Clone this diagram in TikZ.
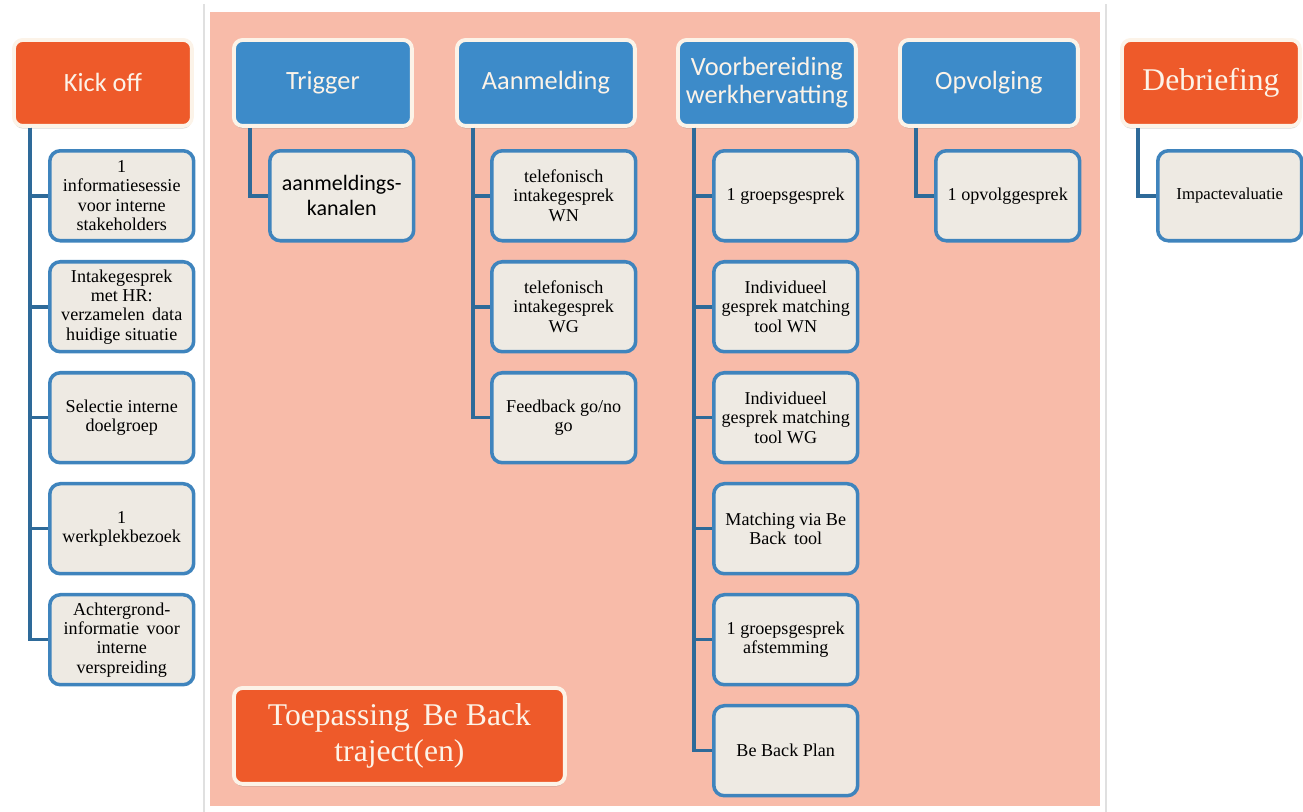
\documentclass[tikz,border=0pt]{standalone}
\usepackage{fontspec}
\setmainfont{Liberation Serif}
\newfontfamily\calibri{Carlito}
\usetikzlibrary{positioning,shadows}

\definecolor{kickorange}{HTML}{EE5A2A}
\definecolor{stepblue}{HTML}{3D8BC9}
\definecolor{cream}{HTML}{FCF3E8}
\definecolor{salmon}{HTML}{F8BBA9}
\definecolor{subfill}{HTML}{EEEAE3}
\definecolor{subline}{HTML}{3F84BD}
\definecolor{linkblue}{HTML}{2E6A99}

\begin{document}
\begin{tikzpicture}[x=0.02cm,y=-0.02cm,
					node distance=0.35cm,
					head/.style={rectangle,rounded corners=5pt,draw=cream,line width=2.2pt,
						minimum width=3.56cm,minimum height=1.72cm,anchor=north west,
						text=cream,align=center,inner sep=2pt,
						drop shadow={shadow xshift=0pt,shadow yshift=-1.5pt,opacity=0.3}},
					orange head/.style={head,fill=kickorange},
					blue head/.style={head,fill=stepblue,font=\calibri\fontsize{15}{16}\selectfont},
					sub/.style={rectangle,rounded corners=6pt,draw=subline,line width=2pt,fill=subfill,
						minimum width=2.88cm,minimum height=1.8cm,align=center,inner sep=2pt,
						font=\fontsize{10.3}{11}\selectfont},
					link/.style={draw=linkblue,line width=2pt}]

  \useasboundingbox (0,0) rectangle (1303,812);
  % panel for the Be Back traject
  \fill[salmon] (210,12) rectangle (1100,806);
  \draw[black!12,line width=0.6pt] (204,4) -- (204,812) (1106,4) -- (1106,812);

  \node[orange head,font=\calibri\fontsize{15}{16}\selectfont] (KO) at (12,38) {Kick off};
  \node[blue head] (TR) at (232,38) {Trigger};
  \node[blue head] (AM) at (455,38) {Aanmelding};
  \node[blue head] (VW) at (676,38) {Voorbereiding\\werkhervatting};
  \node[blue head] (OV) at (898,38) {Opvolging};
  \node[orange head,font=\fontsize{18}{20}\selectfont] (DB) at (1120,38) {Debriefing};

  \node[orange head,minimum width=6.62cm,minimum height=1.92cm,
        font=\fontsize{18}{21}\selectfont] (TP) at (232,686) {Toepassing\, Be Back\\traject(en)};

  % kick off
  \node[sub,anchor=north west] (KO1) at (48,149) {1\\informatiesessie\\voor interne\\stakeholders};
  \node[sub] (KO2) [below=of KO1] {Intakegesprek\\met HR:\\verzamelen\, data\\huidige situatie};
  \node[sub] (KO3) [below=of KO2] {Selectie interne\\doelgroep};
  \node[sub] (KO4) [below=of KO3] {1\\werkplekbezoek};
  \node[sub] (KO5) [below=of KO4] {Achtergrond-\\informatie\, voor\\interne\\verspreiding};

  % trigger
  \node[sub,anchor=north west,font=\calibri\fontsize{12.5}{14}\selectfont] (TR1) at (268,149) {aanmeldings-\\kanalen};

  % aanmelding
  \node[sub,anchor=north west] (AM1) at (490,149) {telefonisch\\intakegesprek\\WN};
  \node[sub] (AM2) [below=of AM1] {telefonisch\\intakegesprek\\WG};
  \node[sub] (AM3) [below=of AM2] {Feedback go/no\\go};

  % voorbereiding
  \node[sub,anchor=north west] (VW1) at (712,149) {1 groepsgesprek};
  \node[sub] (VW2) [below=of VW1] {Individueel\\gesprek matching\\tool WN};
  \node[sub] (VW3) [below=of VW2] {Individueel\\gesprek matching\\tool WG};
  \node[sub] (VW4) [below=of VW3] {Matching via Be\\Back\, tool};
  \node[sub] (VW5) [below=of VW4] {1 groepsgesprek\\afstemming};
  \node[sub] (VW6) [below=of VW5] {Be Back Plan};

  % opvolging, debriefing
  \node[sub,anchor=north west] (OV1) at (934,149) {1 opvolggesprek};
  \node[sub,anchor=north west,font=\fontsize{9.5}{11}\selectfont] (DB1) at (1156,149) {Impactevaluatie};

  \draw[link] ([xshift=0.36cm]KO.south west) |- (KO1.west);
  \draw[link] ([xshift=0.36cm]KO.south west) |- (KO2.west);
  \draw[link] ([xshift=0.36cm]KO.south west) |- (KO3.west);
  \draw[link] ([xshift=0.36cm]KO.south west) |- (KO4.west);
  \draw[link] ([xshift=0.36cm]KO.south west) |- (KO5.west);
  \draw[link] ([xshift=0.36cm]TR.south west) |- (TR1.west);
  \draw[link] ([xshift=0.36cm]AM.south west) |- (AM1.west);
  \draw[link] ([xshift=0.36cm]AM.south west) |- (AM2.west);
  \draw[link] ([xshift=0.36cm]AM.south west) |- (AM3.west);
  \draw[link] ([xshift=0.36cm]VW.south west) |- (VW1.west);
  \draw[link] ([xshift=0.36cm]VW.south west) |- (VW2.west);
  \draw[link] ([xshift=0.36cm]VW.south west) |- (VW3.west);
  \draw[link] ([xshift=0.36cm]VW.south west) |- (VW4.west);
  \draw[link] ([xshift=0.36cm]VW.south west) |- (VW5.west);
  \draw[link] ([xshift=0.36cm]VW.south west) |- (VW6.west);
  \draw[link] ([xshift=0.36cm]OV.south west) |- (OV1.west);
  \draw[link] ([xshift=0.36cm]DB.south west) |- (DB1.west);
\end{tikzpicture}
\end{document}
